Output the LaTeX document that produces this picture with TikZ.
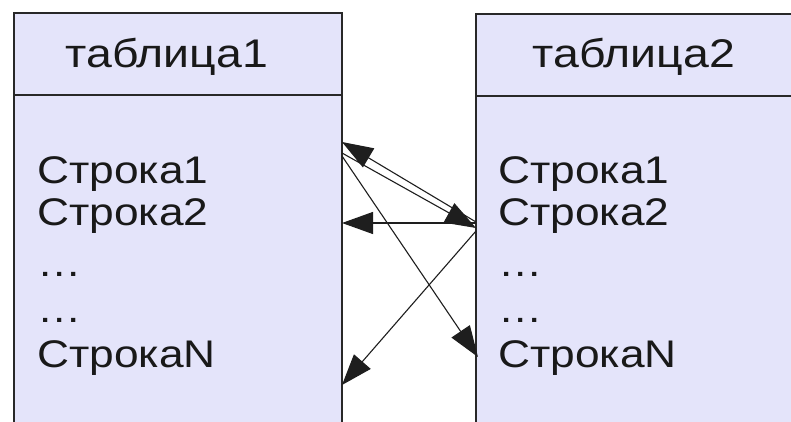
\documentclass[tikz,border=0pt]{standalone}
\usepackage{fontspec}
\setmainfont{Liberation Sans}
\newfontfamily\rowfont{Liberation Sans}[FakeStretch=1.15]
\newfontfamily\headfont{Liberation Sans}[FakeStretch=1.16]
\usetikzlibrary{arrows.meta}
\definecolor{tablefill}{RGB}{228,228,250}
\definecolor{tableline}{RGB}{40,40,40}
\definecolor{linkline}{RGB}{30,30,30}
\tikzset{
  tablebox/.style={fill=tablefill, draw=tableline, line width=2pt},
  header/.style={anchor=base, inner sep=0pt, font=\headfont\fontsize{40}{42}\selectfont, text=black!90},
  row/.style={anchor=base west, inner sep=0pt, font=\rowfont\fontsize{38.5}{42}\selectfont, text=black!90},
  link/.style={draw=linkline, line width=1.1pt, -{Triangle[length=31pt,width=22pt]}},
}
\begin{document}
\begin{tikzpicture}[x=1pt,y=-1pt]
  \useasboundingbox (0,0) rectangle (791,422);
  \fill[white] (0,0) rectangle (791,422);

  % table 1: open at the bottom
  \fill[tablefill] (14,13) rectangle (342,424);
  \draw[tablebox, fill=none] (14,424) -- (14,13) -- (342,13) -- (342,424);
  \draw[tablebox] (14,95) -- (342,95);

  % table 2: open at the bottom and on the right
  \fill[tablefill] (476,14) rectangle (793,424);
  \draw[tablebox, fill=none] (476,424) -- (476,14) -- (793,14);
  \draw[tablebox] (476,96) -- (793,96);

  % headers
  \node[header] (h1) at (167,68) {таблица1};
  \node[header] (h2) at (634,68) {таблица2};

  % rows of table 1
  \node[row] (a1) at (37,183) {Строка1};
  \node[row] (a2) at (37,225) {Строка2};
  \node[row] (a3) at (37,276) {…};
  \node[row] (a4) at (37,322) {…};
  \node[row] (aN) at (37,367) {СтрокаN};

  % rows of table 2
  \node[row] (b1) at (498,183) {Строка1};
  \node[row] (b2) at (498,225) {Строка2};
  \node[row] (b3) at (498,276) {…};
  \node[row] (b4) at (498,322) {…};
  \node[row] (bN) at (498,367) {СтрокаN};

  % link ends on the inner edges of the tables
  \coordinate (L1a) at (342,142);
  \coordinate (L1b) at (342,153);
  \coordinate (L1c) at (342,156);
  \coordinate (L2)  at (342,223);
  \coordinate (LN)  at (342,385);
  \coordinate (R2a) at (476,222);
  \coordinate (R2b) at (476,228);
  \coordinate (R2c) at (476,223);
  \coordinate (R2d) at (476,231);
  \coordinate (RN)  at (478,357);

  % links between rows
  \draw[link] (R2a) -- (L1a);
  \draw[link] (L1b) -- (R2b);
  \draw[link] (R2c) -- (L2);
  \draw[link] (L1c) -- (RN);
  \draw[link] (R2d) -- (LN);
\end{tikzpicture}
\end{document}
